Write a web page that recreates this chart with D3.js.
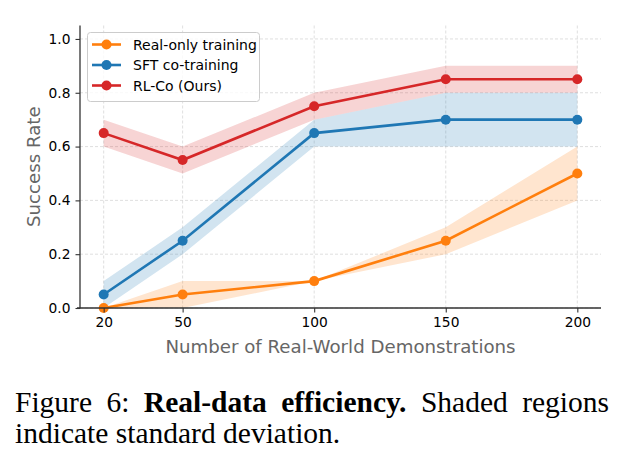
<!DOCTYPE html>
<html lang="en">
<head>
<meta charset="utf-8">
<title>Real-data efficiency</title>
<script src="https://cdn.jsdelivr.net/npm/d3@7"></script>
<style>
  body { margin: 0; background: #fff; }
  .tick text { font-family: 'DejaVu Sans', sans-serif; font-size: 13.8px; fill: #000; }
  .axis-label { font-family: 'DejaVu Sans', sans-serif; font-size: 18.2px; fill: #666; }
  .legend text { font-family: 'DejaVu Sans', sans-serif; font-size: 14px; fill: #000; }
  .caption { font-family: 'Liberation Serif', 'Times New Roman', serif; font-size: 29.5px; fill: #000; }
</style>
</head>
<body>
<svg id="chart" width="624" height="465"></svg>
<script>
// demonstrations on the x axis
var demos = [20, 50, 100, 150, 200];
var yTicks = [0.0, 0.2, 0.4, 0.6, 0.8, 1.0];

// mean success rates and std per method
var realOnly     = [0.00, 0.05, 0.10, 0.25, 0.50];
var realOnlyStd  = [0.00, 0.05, 0.00, 0.05, 0.10];
var sftCo        = [0.05, 0.25, 0.65, 0.70, 0.70];
var sftCoStd     = [0.05, 0.05, 0.05, 0.10, 0.10];
var rlCo         = [0.65, 0.55, 0.75, 0.85, 0.85];
var rlCoStd      = [0.05, 0.05, 0.05, 0.05, 0.05];

var seriesNames  = ["Real-only training", "SFT co-training", "RL-Co (Ours)"];
var seriesColors = ["#ff7f0e", "#1f77b4", "#d62728"];

var series = [
  { name: seriesNames[0], mean: realOnly, std: realOnlyStd, color: seriesColors[0] },
  { name: seriesNames[1], mean: sftCo,    std: sftCoStd,    color: seriesColors[1] },
  { name: seriesNames[2], mean: rlCo,     std: rlCoStd,     color: seriesColors[2] }
];

var svg = d3.select("#chart");
var pL = 80, pR = 601, pT = 25.5, pB = 308;

var x = d3.scaleLinear().domain([11, 209]).range([pL, pR]);
var y = d3.scaleLinear().domain([0, 1.05]).range([pB, pT]);

// clip for shaded areas
svg.append("clipPath").attr("id", "plotClip")
  .append("rect").attr("x", pL).attr("y", pT)
  .attr("width", pR - pL).attr("height", pB - pT);

// grid
var grid = svg.append("g");
grid.selectAll(".gx").data(demos).enter().append("line")
  .attr("x1", function(d) { return x(d); }).attr("x2", function(d) { return x(d); })
  .attr("y1", pT).attr("y2", pB)
  .attr("stroke", "#bbb").attr("stroke-opacity", 0.6)
  .attr("stroke-width", 0.8).attr("stroke-dasharray", "3,2");
grid.selectAll(".gy").data(yTicks).enter().append("line")
  .attr("x1", pL).attr("x2", pR)
  .attr("y1", function(d) { return y(d); }).attr("y2", function(d) { return y(d); })
  .attr("stroke", "#bbb").attr("stroke-opacity", 0.6)
  .attr("stroke-width", 0.8).attr("stroke-dasharray", "3,2");

var area = d3.area()
  .x(function(d, i) { return x(demos[i]); })
  .y0(function(d) { return y(d[0] - d[1]); })
  .y1(function(d) { return y(d[0] + d[1]); });

var line = d3.line()
  .x(function(d, i) { return x(demos[i]); })
  .y(function(d) { return y(d); });

var plot = svg.append("g");
series.forEach(function(s) {
  var pairs = s.mean.map(function(m, i) { return [m, s.std[i]]; });
  plot.append("path")
    .attr("d", area(pairs))
    .attr("fill", s.color).attr("fill-opacity", 0.2)
    .attr("clip-path", "url(#plotClip)");
});
series.forEach(function(s) {
  plot.append("path")
    .attr("d", line(s.mean))
    .attr("fill", "none").attr("stroke", s.color).attr("stroke-width", 2.6);
  plot.selectAll(null).data(s.mean).enter().append("circle")
    .attr("cx", function(d, i) { return x(demos[i]); })
    .attr("cy", function(d) { return y(d); })
    .attr("r", 5).attr("fill", s.color);
});

// axes
var xAxis = svg.append("g").attr("transform", "translate(0," + pB + ")")
  .call(d3.axisBottom(x).tickValues(demos).tickSize(4.5).tickPadding(5).tickFormat(d3.format("d")));
var yAxis = svg.append("g").attr("transform", "translate(" + pL + ",0)")
  .call(d3.axisLeft(y).tickValues(yTicks).tickSize(4.5).tickPadding(5).tickFormat(d3.format(".1f")));
[xAxis, yAxis].forEach(function(a) {
  a.select(".domain").attr("stroke", "#333").attr("stroke-width", 1.3);
  a.selectAll(".tick line").attr("stroke", "#333").attr("stroke-width", 1.1);
});
xAxis.select(".domain").attr("d", "M" + (pL - 3) + ",0H" + pR);
yAxis.select(".domain").attr("d", "M0," + (pB + 0.5) + "V" + pT);

svg.append("text").attr("class", "axis-label")
  .attr("x", (pL + pR) / 2).attr("y", 353)
  .attr("text-anchor", "middle")
  .text("Number of Real-World Demonstrations");
svg.append("text").attr("class", "axis-label")
  .attr("transform", "translate(40," + ((pT + pB) / 2) + ") rotate(-90)")
  .attr("text-anchor", "middle")
  .text("Success Rate");

// legend
var legend = svg.append("g").attr("class", "legend");
legend.append("rect")
  .attr("x", 87.5).attr("y", 32.5).attr("width", 172).attr("height", 69).attr("rx", 3)
  .attr("fill", "#fff").attr("fill-opacity", 0.8)
  .attr("stroke", "#ccc").attr("stroke-width", 1);
series.forEach(function(s, i) {
  var ly = 44.5 + i * 20.5;
  legend.append("line").attr("x1", 92).attr("x2", 121).attr("y1", ly).attr("y2", ly)
    .attr("stroke", s.color).attr("stroke-width", 2.6);
  legend.append("circle").attr("cx", 106.5).attr("cy", ly).attr("r", 5).attr("fill", s.color);
  legend.append("text").attr("x", 133).attr("y", ly + 5).text(s.name);
});

// caption, first line justified to the column width
var cap = svg.append("text").attr("class", "caption").attr("x", 15).attr("y", 412);
cap.append("tspan").text("Figure 6: ");
cap.append("tspan").attr("font-weight", "bold").text("Real-data efficiency.");
cap.append("tspan").text(" Shaded regions");
var w = cap.node().getComputedTextLength();
var gaps = 5;
var extra = (594 - w) / gaps;
if (extra > 0) cap.attr("word-spacing", extra);
svg.append("text").attr("class", "caption").attr("x", 15).attr("y", 443)
  .text("indicate standard deviation.");
</script>
</body>
</html>
